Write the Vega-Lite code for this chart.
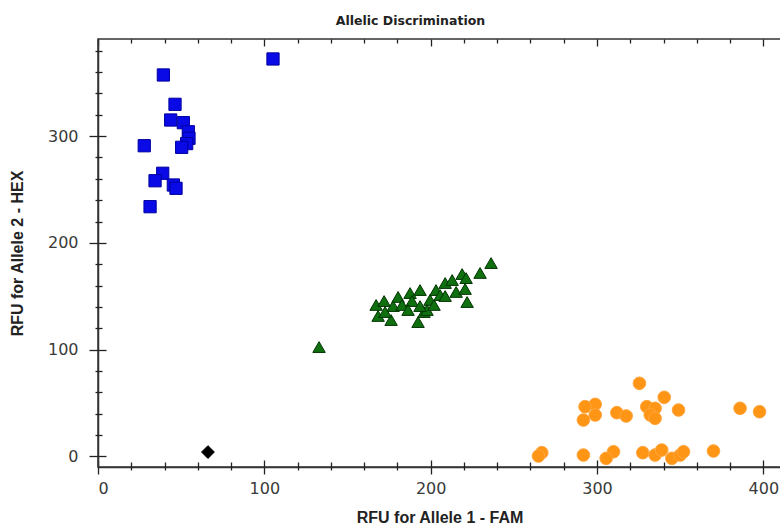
{
  "$schema": "https://vega.github.io/schema/vega-lite/v6.json",
  "autosize": "none",
  "padding": {"left": 98, "top": 39, "right": 0, "bottom": 57},
  "width": 683,
  "height": 428,
  "background": "white",
  "title": {"text": "Allelic Discrimination", "font": "DejaVu Sans", "fontSize": 12.5, "fontWeight": "bold", "color": "#222", "anchor": "middle", "frame": "group", "offset": 11, "dx": -29},
  "config": {
    "view": {"stroke": "#333", "strokeWidth": 1.5},
    "axis": {"grid": false, "domainColor": "#333", "domainWidth": 1.5, "tickColor": "#222", "tickWidth": 1.3, "labelFont": "DejaVu Sans", "labelFontSize": 16, "labelColor": "#3a3a3a", "titleFont": "Liberation Sans", "titleFontSize": 16, "titleFontWeight": "bold", "titleColor": "#222"}
  },
  "data": {"values": [
    {"x": 39.3, "y": 357.3, "call": "Allele 2"},
    {"x": 105.2, "y": 372.3, "call": "Allele 2"},
    {"x": 46.3, "y": 329.8, "call": "Allele 2"},
    {"x": 43.7, "y": 315.1, "call": "Allele 2"},
    {"x": 51.3, "y": 312.6, "call": "Allele 2"},
    {"x": 54.3, "y": 304.1, "call": "Allele 2"},
    {"x": 54.7, "y": 298.0, "call": "Allele 2"},
    {"x": 53.3, "y": 293.0, "call": "Allele 2"},
    {"x": 50.3, "y": 289.5, "call": "Allele 2"},
    {"x": 27.8, "y": 291.0, "call": "Allele 2"},
    {"x": 38.9, "y": 265.2, "call": "Allele 2"},
    {"x": 34.3, "y": 258.2, "call": "Allele 2"},
    {"x": 45.3, "y": 254.2, "call": "Allele 2"},
    {"x": 46.9, "y": 251.1, "call": "Allele 2"},
    {"x": 31.3, "y": 233.9, "call": "Allele 2"},
    {"x": 132.9, "y": 102.4, "call": "Heterozygous"},
    {"x": 167.2, "y": 141.8, "call": "Heterozygous"},
    {"x": 172.0, "y": 145.5, "call": "Heterozygous"},
    {"x": 177.4, "y": 140.8, "call": "Heterozygous"},
    {"x": 168.4, "y": 131.5, "call": "Heterozygous"},
    {"x": 176.2, "y": 127.7, "call": "Heterozygous"},
    {"x": 180.4, "y": 149.3, "call": "Heterozygous"},
    {"x": 182.8, "y": 141.8, "call": "Heterozygous"},
    {"x": 187.6, "y": 153.0, "call": "Heterozygous"},
    {"x": 188.8, "y": 145.5, "call": "Heterozygous"},
    {"x": 193.6, "y": 155.8, "call": "Heterozygous"},
    {"x": 196.0, "y": 135.2, "call": "Heterozygous"},
    {"x": 192.4, "y": 125.8, "call": "Heterozygous"},
    {"x": 199.6, "y": 146.5, "call": "Heterozygous"},
    {"x": 203.2, "y": 155.8, "call": "Heterozygous"},
    {"x": 205.7, "y": 151.1, "call": "Heterozygous"},
    {"x": 208.7, "y": 162.4, "call": "Heterozygous"},
    {"x": 212.9, "y": 165.2, "call": "Heterozygous"},
    {"x": 215.3, "y": 154.0, "call": "Heterozygous"},
    {"x": 218.9, "y": 170.8, "call": "Heterozygous"},
    {"x": 221.3, "y": 167.0, "call": "Heterozygous"},
    {"x": 220.7, "y": 156.8, "call": "Heterozygous"},
    {"x": 221.9, "y": 144.6, "call": "Heterozygous"},
    {"x": 229.7, "y": 171.8, "call": "Heterozygous"},
    {"x": 236.3, "y": 181.1, "call": "Heterozygous"},
    {"x": 197.8, "y": 137.1, "call": "Heterozygous"},
    {"x": 202.0, "y": 141.8, "call": "Heterozygous"},
    {"x": 186.4, "y": 137.1, "call": "Heterozygous"},
    {"x": 172.6, "y": 135.2, "call": "Heterozygous"},
    {"x": 193.6, "y": 140.8, "call": "Heterozygous"},
    {"x": 208.7, "y": 150.2, "call": "Heterozygous"},
    {"x": 325.5, "y": 68.4, "call": "Allele 1"},
    {"x": 340.4, "y": 55.3, "call": "Allele 1"},
    {"x": 298.9, "y": 48.7, "call": "Allele 1"},
    {"x": 292.8, "y": 46.5, "call": "Allele 1"},
    {"x": 298.9, "y": 38.7, "call": "Allele 1"},
    {"x": 291.8, "y": 34.0, "call": "Allele 1"},
    {"x": 311.9, "y": 40.9, "call": "Allele 1"},
    {"x": 317.5, "y": 37.8, "call": "Allele 1"},
    {"x": 329.9, "y": 46.5, "call": "Allele 1"},
    {"x": 334.9, "y": 45.0, "call": "Allele 1"},
    {"x": 332.0, "y": 38.7, "call": "Allele 1"},
    {"x": 334.9, "y": 35.6, "call": "Allele 1"},
    {"x": 349.0, "y": 43.4, "call": "Allele 1"},
    {"x": 386.0, "y": 45.0, "call": "Allele 1"},
    {"x": 397.7, "y": 41.8, "call": "Allele 1"},
    {"x": 266.8, "y": 3.4, "call": "Allele 1"},
    {"x": 264.8, "y": 0.3, "call": "Allele 1"},
    {"x": 291.8, "y": 1.2, "call": "Allele 1"},
    {"x": 309.9, "y": 4.3, "call": "Allele 1"},
    {"x": 305.5, "y": -1.9, "call": "Allele 1"},
    {"x": 327.5, "y": 3.4, "call": "Allele 1"},
    {"x": 334.9, "y": 1.2, "call": "Allele 1"},
    {"x": 338.9, "y": 5.9, "call": "Allele 1"},
    {"x": 345.0, "y": -1.9, "call": "Allele 1"},
    {"x": 350.0, "y": 1.2, "call": "Allele 1"},
    {"x": 352.0, "y": 4.3, "call": "Allele 1"},
    {"x": 370.0, "y": 5.0, "call": "Allele 1"},
    {"x": 66.1, "y": 4.0, "call": "NTC"}
  ]},
  "resolve": {"axis": {"x": "independent", "y": "independent"}},
  "layer": [
    {
      "mark": {"type": "point", "filled": true, "opacity": 1, "strokeWidth": 1},
      "encoding": {
        "x": {"field": "x", "type": "quantitative", "scale": {"domain": [0, 410.6], "nice": false, "zero": false},
              "axis": {"orient": "bottom", "values": [0, 100, 200, 300, 400], "tickSize": 7, "labelPadding": 6, "title": "RFU for Allele 1 - FAM", "titlePadding": 13}},
        "y": {"field": "y", "type": "quantitative", "scale": {"domain": [-10, 391], "nice": false, "zero": false},
              "axis": {"orient": "left", "values": [0, 100, 200, 300], "tickSize": 9, "labelPadding": 11, "title": "RFU for Allele 2 - HEX", "titlePadding": 22}},
        "shape": {"field": "call", "type": "nominal", "legend": null,
                  "scale": {"domain": ["Allele 2", "Heterozygous", "Allele 1", "NTC"], "range": ["square", "triangle-up", "circle", "diamond"]}},
        "color": {"field": "call", "type": "nominal", "legend": null,
                  "scale": {"domain": ["Allele 2", "Heterozygous", "Allele 1", "NTC"], "range": ["#0a0ae6", "#107010", "#ff9514", "#000000"]}},
        "stroke": {"field": "call", "type": "nominal", "legend": null,
                  "scale": {"domain": ["Allele 2", "Heterozygous", "Allele 1", "NTC"], "range": ["#0000a0", "#003300", "#ffa640", "#000000"]}},
        "size": {"field": "call", "type": "nominal", "legend": null,
                  "scale": {"domain": ["Allele 2", "Heterozygous", "Allele 1", "NTC"], "range": [150, 165, 180, 90]}}
      }
    },
    {
      "mark": {"type": "point", "opacity": 0},
      "encoding": {
        "x": {"field": "x", "type": "quantitative", "axis": {"orient": "bottom", "values": [20, 40, 60, 80, 120, 140, 160, 180, 220, 240, 260, 280, 320, 340, 360, 380], "offset": -5, "tickSize": 8, "domain": false, "labels": false, "title": null}},
        "y": {"field": "y", "type": "quantitative", "axis": {"orient": "left", "values": [20, 40, 60, 80, 120, 140, 160, 180, 220, 240, 260, 280, 320, 340, 360, 380], "offset": -4, "tickSize": 7, "domain": false, "labels": false, "title": null}}
      }
    },
    {
      "mark": {"type": "point", "opacity": 0},
      "encoding": {
        "x": {"field": "x", "type": "quantitative", "axis": {"orient": "bottom", "values": [0, 100, 200, 300, 400], "offset": -7, "tickSize": 7, "domain": false, "labels": false, "title": null}},
        "y": {"field": "y", "type": "quantitative", "axis": {"orient": "left", "values": [0, 100, 200, 300], "offset": -8, "tickSize": 8, "domain": false, "labels": false, "title": null}}
      }
    },
    {
      "mark": {"type": "point", "opacity": 0},
      "encoding": {
        "x": {"field": "x", "type": "quantitative", "axis": {"orient": "top", "values": [0, 100, 200, 300, 400], "offset": -7, "tickSize": 7, "domain": false, "labels": false, "title": null}},
        "y": {"field": "y", "type": "quantitative", "axis": null}
      }
    },
    {
      "mark": {"type": "point", "opacity": 0},
      "encoding": {
        "x": {"field": "x", "type": "quantitative", "axis": {"orient": "top", "values": [20, 40, 60, 80, 120, 140, 160, 180, 220, 240, 260, 280, 320, 340, 360, 380], "offset": -4, "tickSize": 4, "domain": false, "labels": false, "title": null}},
        "y": {"field": "y", "type": "quantitative", "axis": null}
      }
    }
  ]
}
